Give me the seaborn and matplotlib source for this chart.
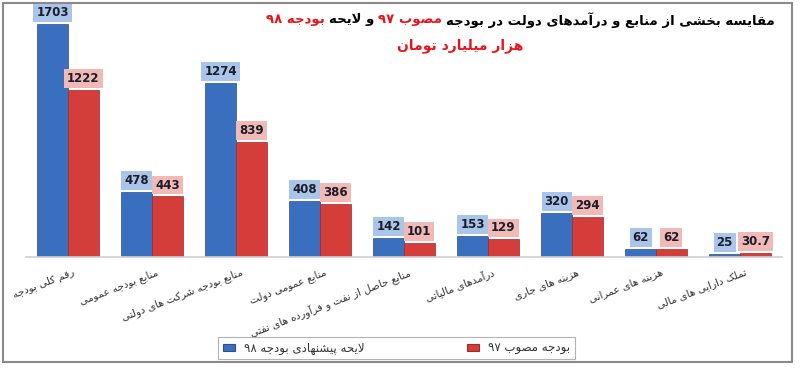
import re
import matplotlib
matplotlib.use('Agg')
import matplotlib.pyplot as plt
import matplotlib.transforms as mtransforms
from matplotlib.patches import Rectangle
import pandas as pd
import seaborn as sns

# data
categories = ['رقم کلی بودجه', 'منابع بودجه عمومی', 'منابع بودجه شرکت های دولتی',
              'منابع عمومی دولت', 'منابع حاصل از نفت و فرآورده های نفتی',
              'درآمدهای مالیاتی', 'هزینه های جاری', 'هزینه های عمرانی',
              'تملک دارایی های مالی']
bill_98 = [1703, 478, 1274, 408, 142, 153, 320, 62, 25]
approved_97 = [1222, 443, 839, 386, 101, 129, 294, 62, 30.7]
series_names = ['لایحه پیشنهادی بودجه ۹۸', 'بودجه مصوب ۹۷']
title_parts = [('مقایسه بخشی از منابع و درآمدهای دولت در بودجه', 'black'),
               ('مصوب ۹۷', '#e8141b'), ('و لایحه', 'black'), ('بودجه ۹۸', '#e8141b')]
subtitle = 'هزار میلیارد تومان'

# minimal arabic/persian shaping (matplotlib does no shaping or bidi)
DUAL = {'ب': 0xFE8F, 'ت': 0xFE95, 'ث': 0xFE99, 'ج': 0xFE9D, 'ح': 0xFEA1, 'خ': 0xFEA5,
        'س': 0xFEB1, 'ش': 0xFEB5, 'ص': 0xFEB9, 'ض': 0xFEBD, 'ط': 0xFEC1, 'ظ': 0xFEC5,
        'ع': 0xFEC9, 'غ': 0xFECD, 'ف': 0xFED1, 'ق': 0xFED5, 'ك': 0xFED9, 'ل': 0xFEDD,
        'م': 0xFEE1, 'ن': 0xFEE5, 'ه': 0xFEE9, 'ي': 0xFEF1, 'ئ': 0xFE89,
        'پ': 0xFB56, 'چ': 0xFB7A, 'ک': 0xFB8E, 'گ': 0xFB92, 'ی': 0xFBFC}
RIGHT = {'ا': 0xFE8D, 'آ': 0xFE81, 'أ': 0xFE83, 'إ': 0xFE87, 'ؤ': 0xFE85, 'د': 0xFEA9,
         'ذ': 0xFEAB, 'ر': 0xFEAD, 'ز': 0xFEAF, 'و': 0xFEED, 'ة': 0xFE93, 'ژ': 0xFB8A}
LAM_ALEF = {'ا': (0xFEFB, 0xFEFC), 'آ': (0xFEF5, 0xFEF6)}
DIGITS = '0123456789۰۱۲۳۴۵۶۷۸۹.'


def shape(text):
    out = []
    i = 0
    while i < len(text):
        c = text[i]
        p = i > 0 and text[i - 1] in DUAL
        nxt = text[i + 1] if i + 1 < len(text) else ''
        if c == 'ل' and nxt in LAM_ALEF:
            iso, fin = LAM_ALEF[nxt]
            out.append(chr(fin if p else iso))
            i += 2
            continue
        if c in DUAL:
            q = nxt in DUAL or nxt in RIGHT
            out.append(chr(DUAL[c] + (3 if p and q else 1 if p else 2 if q else 0)))
        elif c in RIGHT:
            out.append(chr(RIGHT[c] + (1 if p else 0)))
        elif c != '\u200c':
            out.append(c)
        i += 1
    runs = re.findall(r'[0-9۰-۹.]+|[^0-9۰-۹.]+', ''.join(out))
    return ''.join(r if r[0] in DIGITS else r[::-1] for r in reversed(runs))


blue, red = '#3a6ebf', '#d43d3a'
cat_labels = [shape(c) for c in categories]
hue_labels = [shape(s) for s in series_names]

df = pd.DataFrame({
    'category': cat_labels * 2,
    'series': [hue_labels[0]] * len(cat_labels) + [hue_labels[1]] * len(cat_labels),
    'value': bill_98 + approved_97,
})

sns.set_style('white')
plt.rcParams['font.family'] = ['DejaVu Sans']
fig = plt.figure(figsize=(8, 3.7), dpi=100)
ax = fig.add_axes([0.0325, 0.3054, 0.945, 0.6676])
sns.barplot(data=df, x='category', y='value', hue='series', order=cat_labels,
            hue_order=hue_labels, palette=[blue, red], width=0.73, saturation=1,
            legend=False, edgecolor='#2b4f8a', linewidth=0.5, ax=ax)
for bar in ax.containers[1]:
    bar.set_edgecolor('#9c2a28')

ax.set_xlim(-0.5, len(categories) - 0.5)
ax.set_ylim(0, 1805)
ax.set_xlabel('')
ax.set_ylabel('')
ax.set_yticks([])
for s in ['top', 'left', 'right']:
    ax.spines[s].set_visible(False)
ax.spines['bottom'].set_color('#cfcfcf')
ax.spines['bottom'].set_linewidth(1.2)
ax.tick_params(axis='x', length=0, pad=7)
ax.set_xticks(range(len(cat_labels)))
ax.set_xticklabels(cat_labels, rotation=21, ha='right', rotation_mode='anchor',
                   fontsize=7.5, color='#333333')
shift = mtransforms.ScaledTranslation(3 / 72, 0, fig.dpi_scale_trans)
for lab in ax.get_xticklabels():
    lab.set_transform(lab.get_transform() + shift)

# value labels in coloured boxes
box_colors = ['#a9c6ea', '#f1bab7']
for cont, vals, bc in zip(ax.containers, [bill_98, approved_97], box_colors):
    for bar, v in zip(cont, vals):
        ax.annotate(f'{v:g}', (bar.get_x() + bar.get_width() / 2, bar.get_height()),
                    xytext=(0, 3.5), textcoords='offset points', ha='center', va='bottom',
                    fontsize=8.5, fontweight='bold', color='#1c1c2a',
                    bbox=dict(boxstyle='square,pad=0.25', fc=bc, ec='none'))

# legend
handles = [Rectangle((0, 0), 1, 1, fc=blue, ec='#2b4f8a', lw=0.8),
           Rectangle((0, 0), 1, 1, fc=red, ec='#9c2a28', lw=0.8)]
leg = fig.legend(handles, hue_labels, loc='center', mode='expand',
                 bbox_to_anchor=(218 / 800, 1 - 358 / 370, 357 / 800, 20 / 370),
                 ncol=2, fontsize=8.5, frameon=True, fancybox=False, handlelength=1.0,
                 handleheight=0.6, handletextpad=0.8, borderpad=0.4, borderaxespad=0,
                 labelcolor='#333333')
leg.get_frame().set_edgecolor('#a0a0a0')
leg.get_frame().set_linewidth(0.8)

# title, right aligned, mixed colours
fig.canvas.draw()
renderer = fig.canvas.get_renderer()
x = 0.969 * 800
for txt, col in title_parts:
    t = fig.text(x / 800, 1 - 20 / 370, shape(txt), ha='right', va='center',
                 fontsize=9.5, fontweight='bold', color=col)
    x -= t.get_window_extent(renderer=renderer).width + 4
fig.text(460 / 800, 1 - 46 / 370, shape(subtitle), ha='center', va='center',
         fontsize=10, fontweight='bold', color='#e8141b')

# grey frame around the whole picture
fig.patches.append(Rectangle((0.004, 0.022), 0.986, 0.970, transform=fig.transFigure,
                             fill=False, ec='#8a8a8a', lw=1.5))

fig.savefig('out.png', dpi=100)
